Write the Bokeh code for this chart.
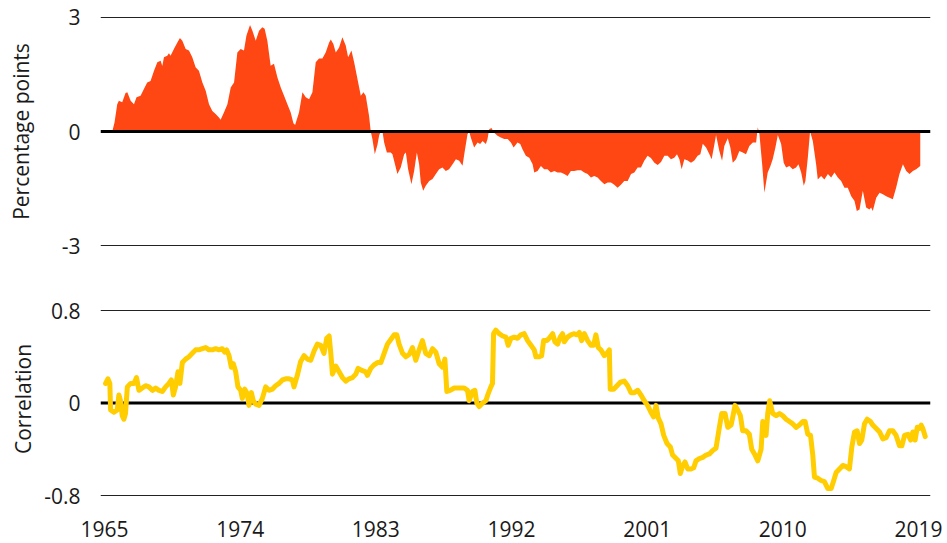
from bokeh.plotting import figure
from bokeh.layouts import column
from bokeh.models import Range1d, FixedTicker, Span
from bokeh.embed import file_html
from bokeh.resources import INLINE

# ---- data ----
spread_years = [
    1965.51, 1965.66, 1965.84, 1965.95, 1966.17, 1966.39, 1966.51, 1966.73, 1966.95, 1967.12,
    1967.39, 1967.61, 1967.83, 1968.05, 1968.28, 1968.50, 1968.72, 1968.83, 1968.94, 1969.16,
    1969.27, 1969.38, 1969.60, 1969.83, 1970.00, 1970.16, 1970.38, 1970.60, 1970.82, 1971.04,
    1971.26, 1971.49, 1971.71, 1971.93, 1972.15, 1972.37, 1972.59, 1972.70, 1972.92, 1973.15,
    1973.37, 1973.59, 1973.81, 1974.03, 1974.25, 1974.41, 1974.65, 1974.81, 1975.03, 1975.25,
    1975.47, 1975.62, 1975.80, 1976.02, 1976.24, 1976.47, 1976.69, 1976.91, 1977.13, 1977.35,
    1977.53, 1977.64, 1977.90, 1978.13, 1978.35, 1978.57, 1978.79, 1979.01, 1979.23, 1979.45,
    1979.67, 1979.90, 1980.01, 1980.18, 1980.34, 1980.56, 1980.78, 1981.00, 1981.16, 1981.38,
    1981.56, 1981.78, 1982.00, 1982.18, 1982.33, 1982.55, 1982.66, 1982.77, 1982.93, 1983.11,
    1983.22, 1983.33, 1983.44, 1983.55, 1983.73, 1983.99, 1984.10, 1984.21, 1984.43, 1984.65,
    1984.88, 1984.99, 1985.14, 1985.36, 1985.54, 1985.72, 1985.87, 1985.98, 1986.14, 1986.31,
    1986.54, 1986.76, 1986.98, 1987.20, 1987.42, 1987.64, 1987.86, 1988.09, 1988.31, 1988.53,
    1988.75, 1988.90, 1989.08, 1989.19, 1989.30, 1989.52, 1989.75, 1989.92, 1990.08, 1990.30,
    1990.41, 1990.52, 1990.67, 1990.85, 1991.07, 1991.29, 1991.52, 1991.74, 1991.96, 1992.14,
    1992.40, 1992.58, 1992.73, 1992.95, 1993.18, 1993.40, 1993.51, 1993.73, 1993.95, 1994.17,
    1994.39, 1994.61, 1994.84, 1995.06, 1995.28, 1995.50, 1995.72, 1995.94, 1996.16, 1996.39,
    1996.61, 1996.83, 1997.05, 1997.27, 1997.49, 1997.71, 1997.93, 1998.16, 1998.38, 1998.60,
    1998.82, 1999.04, 1999.26, 1999.48, 1999.71, 1999.93, 2000.15, 2000.37, 2000.59, 2000.81,
    2001.03, 2001.25, 2001.48, 2001.70, 2001.92, 2002.14, 2002.36, 2002.58, 2002.80, 2002.98,
    2003.14, 2003.29, 2003.47, 2003.69, 2003.91, 2004.13, 2004.35, 2004.53, 2004.69, 2004.91,
    2005.13, 2005.28, 2005.46, 2005.57, 2005.79, 2005.97, 2006.12, 2006.35, 2006.52, 2006.68,
    2006.90, 2007.12, 2007.34, 2007.56, 2007.78, 2008.01, 2008.23, 2008.34, 2008.45, 2008.63,
    2008.78, 2009.00, 2009.18, 2009.33, 2009.51, 2009.67, 2009.89, 2010.06, 2010.22, 2010.44,
    2010.66, 2010.88, 2011.04, 2011.22, 2011.39, 2011.50, 2011.66, 2011.81, 2011.99, 2012.21,
    2012.32, 2012.54, 2012.76, 2012.99, 2013.21, 2013.43, 2013.65, 2013.87, 2014.09, 2014.31,
    2014.54, 2014.76, 2014.91, 2015.09, 2015.31, 2015.53, 2015.75, 2015.86, 2015.97, 2016.20,
    2016.42, 2016.64, 2016.86, 2017.08, 2017.30, 2017.52, 2017.74, 2017.97, 2018.19, 2018.41,
    2018.63, 2018.85, 2019.12,
]
spread_values = [
    0.00, 0.24, 0.72, 0.81, 0.77, 1.01, 1.03, 0.81, 0.72, 0.90,
    0.94, 1.12, 1.29, 1.33, 1.60, 1.82, 1.86, 1.72, 1.95, 1.99,
    2.06, 1.99, 2.17, 2.34, 2.46, 2.39, 2.17, 2.13, 1.95, 1.69,
    1.60, 1.29, 1.07, 0.72, 0.54, 0.46, 0.37, 0.31, 0.50, 0.72,
    1.16, 1.29, 2.08, 2.17, 2.13, 2.52, 2.80, 2.65, 2.39, 2.65,
    2.74, 2.70, 2.39, 1.73, 1.78, 1.42, 1.16, 0.94, 0.72, 0.50,
    0.22, 0.17, 0.50, 1.03, 0.90, 0.85, 1.03, 1.82, 1.92, 1.92,
    2.08, 2.34, 2.42, 2.30, 2.08, 2.21, 2.48, 2.26, 1.95, 2.13,
    1.82, 1.38, 0.94, 1.03, 0.94, 0.41, 0.00, -0.20, -0.60, -0.34,
    -0.10, 0.00, 0.00, -0.29, -0.55, -0.55, -0.60, -0.77, -1.12, -0.95,
    -0.60, -0.55, -0.99, -1.39, -1.04, -0.55, -0.86, -1.34, -1.56, -1.43,
    -1.30, -1.25, -1.12, -0.99, -0.95, -1.04, -0.99, -0.86, -0.73, -0.77,
    -0.90, -0.51, -0.07, 0.00, -0.16, -0.42, -0.29, -0.33, -0.25, -0.33,
    -0.20, 0.06, 0.09, -0.03, -0.11, -0.16, -0.20, -0.20, -0.29, -0.42,
    -0.29, -0.33, -0.47, -0.64, -0.69, -0.86, -1.08, -1.04, -0.91, -0.99,
    -0.99, -1.08, -1.04, -1.08, -1.08, -1.12, -1.17, -1.04, -1.04, -1.02,
    -1.02, -1.08, -1.12, -1.21, -1.17, -1.21, -1.30, -1.39, -1.34, -1.34,
    -1.40, -1.48, -1.40, -1.30, -1.30, -1.12, -1.08, -0.95, -0.95, -0.77,
    -0.64, -0.70, -0.82, -0.88, -0.80, -0.64, -0.64, -0.73, -0.69, -0.60,
    -0.73, -0.99, -0.73, -0.76, -0.82, -0.76, -0.64, -0.60, -0.32, -0.42,
    -0.60, -0.73, -0.34, -0.09, -0.51, -0.77, -0.38, -0.18, -0.42, -0.82,
    -0.73, -0.51, -0.55, -0.60, -0.38, -0.29, -0.29, 0.11, -0.07, -0.86,
    -1.61, -1.08, -0.91, -0.73, -0.42, -0.09, -0.33, -0.82, -0.95, -0.91,
    -0.99, -0.95, -0.86, -1.08, -1.43, -1.30, -0.69, 0.00, -0.25, -0.86,
    -1.26, -1.17, -1.26, -1.12, -1.21, -1.08, -1.21, -1.30, -1.48, -1.48,
    -1.70, -1.83, -2.09, -2.05, -1.56, -2.00, -2.05, -2.00, -2.09, -1.74,
    -1.61, -1.65, -1.70, -1.74, -1.78, -1.48, -1.12, -0.86, -1.04, -1.12,
    -1.04, -0.99, -0.91,
]

corr_years = [
    1965.07, 1965.22, 1965.35, 1965.40, 1965.62, 1965.84, 1965.95, 1966.06, 1966.17, 1966.28,
    1966.39, 1966.51, 1966.73, 1966.95, 1967.12, 1967.28, 1967.50, 1967.72, 1967.94, 1968.17,
    1968.39, 1968.61, 1968.83, 1969.05, 1969.27, 1969.43, 1969.56, 1969.71, 1969.87, 1970.00,
    1970.16, 1970.38, 1970.60, 1970.82, 1971.04, 1971.26, 1971.49, 1971.71, 1971.93, 1972.15,
    1972.37, 1972.59, 1972.81, 1972.97, 1973.10, 1973.26, 1973.41, 1973.54, 1973.70, 1973.85,
    1974.03, 1974.14, 1974.30, 1974.47, 1974.58, 1974.74, 1974.87, 1975.03, 1975.25, 1975.47,
    1975.69, 1975.91, 1976.13, 1976.35, 1976.58, 1976.80, 1977.02, 1977.24, 1977.46, 1977.57,
    1977.79, 1978.01, 1978.24, 1978.46, 1978.68, 1978.90, 1979.12, 1979.34, 1979.56, 1979.74,
    1979.90, 1980.01, 1980.12, 1980.34, 1980.56, 1980.78, 1981.00, 1981.22, 1981.45, 1981.67,
    1981.82, 1982.11, 1982.33, 1982.44, 1982.66, 1982.88, 1983.11, 1983.33, 1983.55, 1983.77,
    1983.99, 1984.21, 1984.39, 1984.54, 1984.77, 1984.99, 1985.21, 1985.43, 1985.65, 1985.87,
    1986.09, 1986.31, 1986.54, 1986.76, 1986.98, 1987.20, 1987.42, 1987.58, 1987.71, 1987.93,
    1988.20, 1988.42, 1988.64, 1988.86, 1989.08, 1989.19, 1989.41, 1989.57, 1989.70, 1989.86,
    1990.08, 1990.30, 1990.45, 1990.63, 1990.74, 1990.81, 1990.96, 1991.18, 1991.41, 1991.63,
    1991.78, 1991.96, 1992.18, 1992.40, 1992.62, 1992.84, 1993.07, 1993.29, 1993.51, 1993.62,
    1993.84, 1994.00, 1994.13, 1994.35, 1994.50, 1994.73, 1994.88, 1995.06, 1995.23, 1995.39,
    1995.50, 1995.72, 1995.94, 1996.16, 1996.34, 1996.50, 1996.65, 1996.83, 1997.05, 1997.27,
    1997.45, 1997.60, 1997.76, 1997.93, 1998.16, 1998.33, 1998.49, 1998.55, 1998.78, 1999.00,
    1999.22, 1999.48, 1999.71, 1999.93, 2000.15, 2000.37, 2000.59, 2000.81, 2001.03, 2001.25,
    2001.43, 2001.59, 2001.74, 2001.92, 2002.10, 2002.32, 2002.54, 2002.69, 2002.92, 2003.07,
    2003.20, 2003.36, 2003.51, 2003.69, 2003.91, 2004.09, 2004.24, 2004.46, 2004.69, 2004.91,
    2005.13, 2005.35, 2005.57, 2005.79, 2005.95, 2006.17, 2006.35, 2006.57, 2006.68, 2006.83,
    2007.01, 2007.19, 2007.34, 2007.56, 2007.78, 2007.94, 2008.16, 2008.34, 2008.56, 2008.67,
    2008.89, 2009.00, 2009.13, 2009.33, 2009.56, 2009.78, 2010.00, 2010.22, 2010.44, 2010.66,
    2010.88, 2011.10, 2011.33, 2011.48, 2011.66, 2011.84, 2011.99, 2012.10, 2012.32, 2012.54,
    2012.76, 2012.99, 2013.21, 2013.38, 2013.54, 2013.76, 2013.98, 2014.20, 2014.42, 2014.58,
    2014.76, 2014.93, 2015.09, 2015.24, 2015.42, 2015.60, 2015.82, 2015.97, 2016.20, 2016.42,
    2016.64, 2016.86, 2017.08, 2017.30, 2017.52, 2017.74, 2017.90, 2018.08, 2018.30, 2018.48,
    2018.63, 2018.78, 2018.92, 2019.07, 2019.18, 2019.29, 2019.45,
]
corr_values = [
    0.17, 0.21, 0.17, -0.06, -0.08, -0.06, 0.07, 0.02, -0.11, -0.14,
    -0.09, 0.14, 0.17, 0.17, 0.22, 0.11, 0.13, 0.15, 0.14, 0.11,
    0.13, 0.11, 0.10, 0.14, 0.17, 0.20, 0.07, 0.14, 0.27, 0.17,
    0.35, 0.38, 0.40, 0.43, 0.46, 0.46, 0.47, 0.48, 0.46, 0.46,
    0.47, 0.46, 0.47, 0.44, 0.46, 0.41, 0.31, 0.34, 0.27, 0.14,
    0.11, 0.04, 0.12, 0.08, -0.02, 0.09, 0.02, -0.01, -0.02, 0.04,
    0.14, 0.11, 0.12, 0.15, 0.17, 0.20, 0.21, 0.21, 0.20, 0.14,
    0.24, 0.36, 0.41, 0.38, 0.37, 0.45, 0.51, 0.50, 0.43, 0.56,
    0.58, 0.43, 0.25, 0.32, 0.27, 0.22, 0.19, 0.21, 0.22, 0.25,
    0.30, 0.28, 0.27, 0.24, 0.30, 0.33, 0.35, 0.35, 0.43, 0.51,
    0.55, 0.59, 0.59, 0.51, 0.43, 0.40, 0.42, 0.48, 0.37, 0.46,
    0.54, 0.43, 0.41, 0.47, 0.44, 0.34, 0.31, 0.38, 0.10, 0.11,
    0.13, 0.13, 0.13, 0.13, 0.11, 0.02, 0.10, 0.11, 0.00, -0.03,
    0.00, 0.02, 0.08, 0.14, 0.17, 0.60, 0.63, 0.60, 0.58, 0.57,
    0.50, 0.56, 0.57, 0.56, 0.59, 0.60, 0.54, 0.50, 0.46, 0.40,
    0.40, 0.41, 0.54, 0.54, 0.56, 0.60, 0.53, 0.51, 0.57, 0.60,
    0.53, 0.57, 0.59, 0.60, 0.59, 0.61, 0.54, 0.60, 0.54, 0.50,
    0.50, 0.59, 0.48, 0.46, 0.41, 0.43, 0.46, 0.12, 0.12, 0.15,
    0.18, 0.19, 0.15, 0.09, 0.09, 0.11, 0.07, 0.02, -0.02, -0.08,
    -0.12, -0.02, -0.13, -0.18, -0.28, -0.35, -0.38, -0.45, -0.48, -0.50,
    -0.61, -0.54, -0.51, -0.57, -0.57, -0.56, -0.50, -0.48, -0.47, -0.45,
    -0.44, -0.41, -0.39, -0.21, -0.09, -0.09, -0.21, -0.19, -0.12, -0.02,
    -0.06, -0.11, -0.24, -0.24, -0.27, -0.40, -0.45, -0.50, -0.40, -0.16,
    -0.28, -0.09, 0.02, -0.09, -0.11, -0.09, -0.11, -0.14, -0.16, -0.18,
    -0.21, -0.19, -0.16, -0.16, -0.27, -0.28, -0.45, -0.64, -0.65, -0.67,
    -0.68, -0.74, -0.74, -0.67, -0.60, -0.57, -0.54, -0.55, -0.57, -0.38,
    -0.25, -0.24, -0.35, -0.32, -0.18, -0.14, -0.16, -0.19, -0.22, -0.25,
    -0.31, -0.30, -0.24, -0.24, -0.28, -0.37, -0.37, -0.28, -0.27, -0.32,
    -0.25, -0.32, -0.21, -0.22, -0.19, -0.22, -0.29,
]

x_ticks = [1965, 1974, 1983, 1992, 2001, 2010, 2019]
x_tick_labels = ["1965", "1974", "1983", "1992", "2001", "2010", "2019"]
top_ticks = [-3, 0, 3]
top_tick_labels = ["-3", "0", "3"]
bottom_ticks = [-0.8, 0, 0.8]
bottom_tick_labels = ["-0.8", "0", "0.8"]

FONT = "Open Sans"
TEXT = "#1a1a1a"
ORANGE = "#FF4713"
YELLOW = "#FFCD00"

xr = Range1d(1964.73, 2019.8)


def style_y(p, ticks, labels, title, label_standoff):
    ax = p.yaxis[0]
    ax.ticker = FixedTicker(ticks=ticks)
    ax.major_label_overrides = {t: l for t, l in zip(ticks, labels)}
    ax.axis_line_color = None
    ax.major_tick_line_color = None
    ax.minor_tick_line_color = None
    ax.major_tick_out = 0
    ax.major_tick_in = 0
    ax.major_label_standoff = 20
    ax.major_label_text_font = FONT
    ax.major_label_text_font_size = "21px"
    ax.major_label_text_color = TEXT
    ax.axis_label = title
    ax.axis_label_text_font = FONT
    ax.axis_label_text_font_size = "21px"
    ax.axis_label_text_font_style = "normal"
    ax.axis_label_text_color = TEXT
    ax.axis_label_standoff = label_standoff
    p.ygrid.ticker = FixedTicker(ticks=[t for t in ticks if t != 0])
    p.ygrid.grid_line_color = "#222222"
    p.ygrid.grid_line_width = 1.2
    p.xgrid.grid_line_color = None
    p.outline_line_color = None
    p.background_fill_color = "white"
    p.border_fill_color = "white"


top = figure(width=945, height=262, x_range=xr, y_range=Range1d(-3.13, 3.13),
             output_backend="svg", toolbar_location=None,
             min_border_left=100, min_border_right=15, min_border_top=12, min_border_bottom=12)
top.varea(x=spread_years, y1=0, y2=spread_values, fill_color=ORANGE, fill_alpha=1.0)
top.xaxis.visible = False
style_y(top, top_ticks, top_tick_labels, "Percentage points", 24)
top.add_layout(Span(location=0, dimension="width", line_color="black", line_width=3))

bottom = figure(width=945, height=281, x_range=xr, y_range=Range1d(-0.817, 0.887),
                output_backend="svg", toolbar_location=None,
                min_border_left=100, min_border_right=15, min_border_top=38, min_border_bottom=46)
bottom.add_layout(Span(location=0, dimension="width", line_color="black", line_width=3, level="underlay"))
bottom.line(corr_years, corr_values, line_color=YELLOW, line_width=5, line_join="round", line_cap="round")
style_y(bottom, bottom_ticks, bottom_tick_labels, "Correlation", 4)
xa = bottom.xaxis[0]
xa.ticker = FixedTicker(ticks=x_ticks)
xa.major_label_overrides = {t: l for t, l in zip(x_ticks, x_tick_labels)}
xa.axis_line_color = None
xa.major_tick_line_color = None
xa.minor_tick_line_color = None
xa.major_tick_out = 0
xa.major_tick_in = 0
xa.major_label_standoff = 23
xa.major_label_text_font = FONT
xa.major_label_text_font_size = "21px"
xa.major_label_text_color = TEXT

layout = column(top, bottom)
open("out.html", "w").write(file_html(layout, INLINE))
